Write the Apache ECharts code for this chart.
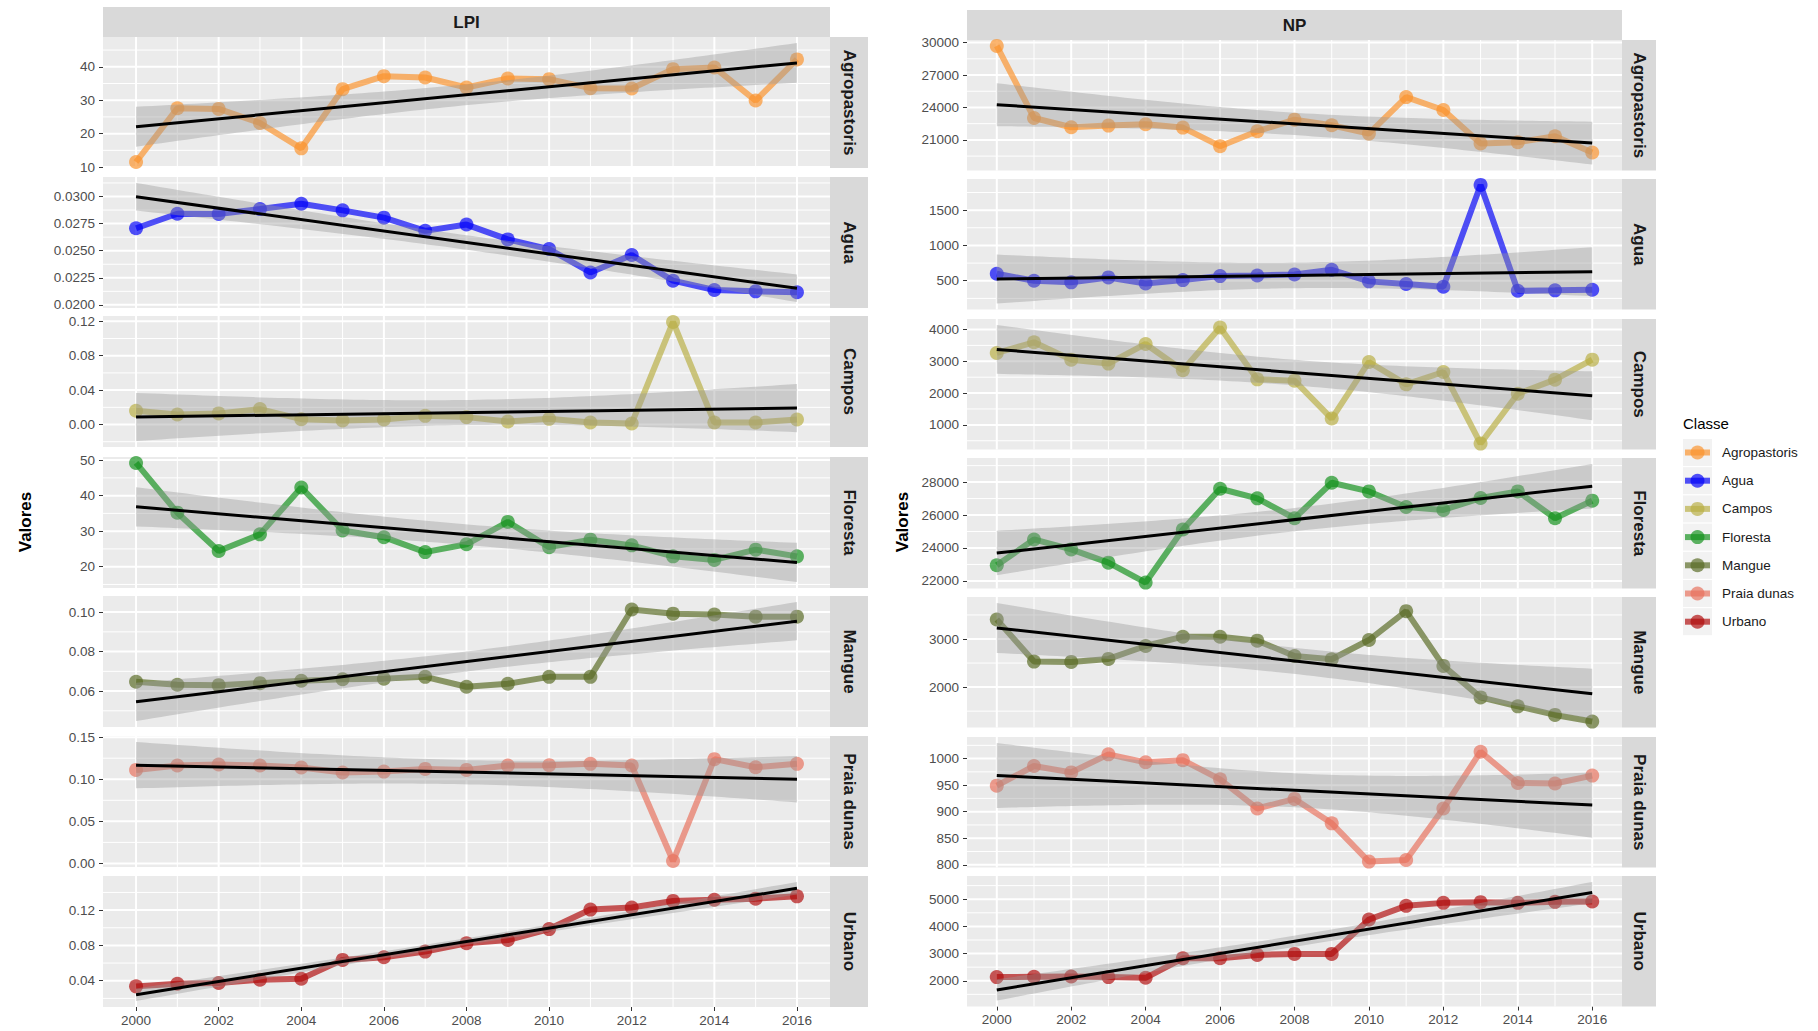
<!DOCTYPE html>
<html>
<head>
<meta charset="utf-8">
<script src="https://cdn.jsdelivr.net/npm/echarts@6/dist/echarts.min.js"></script>
<style>
  html, body { margin: 0; padding: 0; background: #ffffff; }
  #chart { width: 1818px; height: 1031px; }
</style>
</head>
<body>
<div id="chart"></div>
<script>
// ---- data ---------------------------------------------------------------
const years = [2000, 2001, 2002, 2003, 2004, 2005, 2006, 2007, 2008, 2009, 2010, 2011, 2012, 2013, 2014, 2015, 2016];
const classes = ['Agropastoris', 'Agua', 'Campos', 'Floresta', 'Mangue', 'Praia dunas', 'Urbano'];
const classColors = ['#fb922b', '#0000f8', '#b8ae43', '#12901a', '#586a24', '#e7705c', '#b00a0a'];

// LPI (largest patch index)
const lpiAgropastoris = [11.5, 27.6, 27.4, 23.2, 15.6, 33.3, 37.2, 36.8, 33.8, 36.5, 36.3, 33.6, 33.5, 39.3, 39.8, 29.9, 42.2];
const lpiAgua = [0.02707, 0.02841, 0.02838, 0.02884, 0.02933, 0.02872, 0.02805, 0.02683, 0.02741, 0.02604, 0.02515, 0.02299, 0.02460, 0.02223, 0.02137, 0.02125, 0.02116];
const lpiCampos = [0.0160, 0.0117, 0.0129, 0.0179, 0.0062, 0.0047, 0.0058, 0.0101, 0.0086, 0.0035, 0.0066, 0.0023, 0.0012, 0.1192, 0.0023, 0.0023, 0.0058];
const lpiFloresta = [49.2, 35.2, 24.4, 29.1, 42.3, 30.2, 28.3, 24.1, 26.3, 32.6, 25.5, 27.6, 26.0, 22.9, 21.9, 24.8, 22.9];
const lpiMangue = [0.0647, 0.0632, 0.0630, 0.0640, 0.0652, 0.0660, 0.0663, 0.0672, 0.0622, 0.0637, 0.0672, 0.0672, 0.1013, 0.0992, 0.0988, 0.0977, 0.0977];
const lpiPraiaDunas = [0.1111, 0.1163, 0.1175, 0.1163, 0.1139, 0.1080, 0.1091, 0.1123, 0.1111, 0.1163, 0.1167, 0.1183, 0.1163, 0.0028, 0.1239, 0.1143, 0.1183];
const lpiUrbano = [0.0336, 0.0366, 0.0374, 0.0411, 0.0422, 0.0636, 0.0666, 0.0730, 0.0824, 0.0861, 0.0985, 0.1206, 0.1229, 0.1304, 0.1318, 0.1330, 0.1356];

// NP (number of patches)
const npAgropastoris = [29693, 23027, 22167, 22320, 22443, 22136, 20417, 21799, 22873, 22351, 21583, 24961, 23763, 20663, 20786, 21338, 19833];
const npAgua = [599, 500, 477, 547, 462, 509, 566, 575, 589, 655, 491, 453, 415, 1857, 359, 364, 373];
const npCampos = [3262, 3598, 3052, 2927, 3546, 2717, 4063, 2433, 2391, 1199, 2979, 2276, 2664, 412, 1979, 2423, 3052];
const npFloresta = [22947, 24518, 23914, 23108, 21899, 25121, 27597, 27013, 25805, 27960, 27436, 26489, 26308, 27033, 27436, 25805, 26872];
const npMangue = [3407, 2531, 2524, 2586, 2855, 3048, 3048, 2966, 2648, 2579, 2979, 3579, 2441, 1786, 1600, 1421, 1283];
const npPraiaDunas = [949, 986, 974, 1008, 993, 997, 961, 906, 924, 878, 806, 809, 906, 1013, 954, 953, 968];
const npUrbano = [2134, 2146, 2158, 2134, 2109, 2826, 2826, 2951, 2988, 2988, 4255, 4757, 4866, 4891, 4866, 4903, 4915];

// tick values per panel
const lpiTicks = [
  [10, 20, 30, 40],
  [0.0200, 0.0225, 0.0250, 0.0275, 0.0300],
  [0.00, 0.04, 0.08, 0.12],
  [20, 30, 40, 50],
  [0.06, 0.08, 0.10],
  [0.00, 0.05, 0.10, 0.15],
  [0.04, 0.08, 0.12]
];
const lpiDecimals = [0, 4, 2, 0, 2, 2, 2];
const npTicks = [
  [21000, 24000, 27000, 30000],
  [500, 1000, 1500],
  [1000, 2000, 3000, 4000],
  [22000, 24000, 26000, 28000],
  [2000, 3000],
  [800, 850, 900, 950, 1000],
  [2000, 3000, 4000, 5000]
];
const npDecimals = [0, 0, 0, 0, 0, 0, 0];
const yearTicks = [2000, 2002, 2004, 2006, 2008, 2010, 2012, 2014, 2016];
const yearMinor = [2001, 2003, 2005, 2007, 2009, 2011, 2013, 2015];

// ---- layout -------------------------------------------------------------
const X_MIN = 1999.2, X_MAX = 2016.8;
const FONT = '"Liberation Sans", Arial, sans-serif';
const LEFT_COL = { x: 103, w: 727, stripW: 38, tops: [37, 177, 316, 457, 596, 736, 876], h: 131, headerTop: 7 };
const RIGHT_COL = { x: 967, w: 655, stripW: 34, tops: [40, 179, 319, 458, 597, 737, 876], h: 130.5, headerTop: 10 };

// ---- linear fit with 95% confidence band --------------------------------
const T_975_DF15 = 2.1314; // t quantile, n = 17 years -> 15 df
function linearBand(xs, ys) {
  const n = xs.length;
  const mx = xs.reduce((a, b) => a + b, 0) / n;
  const my = ys.reduce((a, b) => a + b, 0) / n;
  let sxx = 0, sxy = 0;
  for (let i = 0; i < n; i++) { sxx += (xs[i] - mx) ** 2; sxy += (xs[i] - mx) * (ys[i] - my); }
  const b = sxy / sxx, a = my - b * mx;
  let sse = 0;
  for (let i = 0; i < n; i++) sse += (ys[i] - a - b * xs[i]) ** 2;
  const s = Math.sqrt(sse / (n - 2));
  const x0 = xs[0], x1 = xs[n - 1];
  const pts = [];
  for (let k = 0; k < 80; k++) {
    const x = x0 + (x1 - x0) * k / 79;
    const yh = a + b * x;
    const se = s * Math.sqrt(1 / n + (x - mx) ** 2 / sxx);
    pts.push([x, yh - T_975_DF15 * se, yh + T_975_DF15 * se]);
  }
  return { a, b, pts };
}

const metrics = [
  { name: 'LPI', col: LEFT_COL, values: [lpiAgropastoris, lpiAgua, lpiCampos, lpiFloresta, lpiMangue, lpiPraiaDunas, lpiUrbano], ticks: lpiTicks, decimals: lpiDecimals },
  { name: 'NP', col: RIGHT_COL, values: [npAgropastoris, npAgua, npCampos, npFloresta, npMangue, npPraiaDunas, npUrbano], ticks: npTicks, decimals: npDecimals }
];

const grids = [], xAxes = [], yAxes = [], series = [], graphics = [];
const tickText = { fontSize: 13.5, color: '#4d4d4d', fontFamily: FONT };

metrics.forEach(m => {
  const col = m.col;
  // facet header
  graphics.push({ type: 'rect', shape: { x: col.x, y: col.headerTop, width: col.w, height: 30 }, style: { fill: '#d9d9d9' }, silent: true });
  graphics.push({ type: 'text', x: col.x + col.w / 2, y: col.headerTop + 15, silent: true,
    style: { text: m.name, align: 'center', verticalAlign: 'middle', fill: '#1a1a1a', font: 'bold 17px ' + FONT } });

  m.values.forEach((vals, r) => {
    const gi = grids.length;
    const top = col.tops[r];
    const last = r === m.values.length - 1;
    grids.push({ left: col.x, top: top, width: col.w, height: col.h, containLabel: false,
      show: true, backgroundColor: '#ebebeb', borderWidth: 0 });

    // strip on the right side of the panel
    graphics.push({ type: 'rect', shape: { x: col.x + col.w, y: top, width: col.stripW, height: col.h }, style: { fill: '#d9d9d9' }, silent: true });
    graphics.push({ type: 'text', x: col.x + col.w + col.stripW / 2, y: top + col.h / 2, rotation: -Math.PI / 2, silent: true,
      style: { text: classes[r], align: 'center', verticalAlign: 'middle', fill: '#1a1a1a', font: 'bold 17px ' + FONT } });

    const fit = linearBand(years, vals);
    const lo = Math.min(...vals, ...fit.pts.map(p => p[1]));
    const hi = Math.max(...vals, ...fit.pts.map(p => p[2]));
    const pad = (hi - lo) * 0.05;
    const yMin = lo - pad, yMax = hi + pad;

    const ticks = m.ticks[r];
    const dec = m.decimals[r];
    const step = ticks[1] - ticks[0];
    const yMinor = [];
    for (let v = ticks[0] - step / 2; v <= ticks[ticks.length - 1] + step / 2 + 1e-12; v += step) {
      if (v >= yMin && v <= yMax) yMinor.push(v);
    }

    xAxes.push({
      gridIndex: gi, type: 'value', min: X_MIN, max: X_MAX,
      axisLine: { show: false }, splitLine: { show: false },
      axisTick: { show: last, length: 4, lineStyle: { color: '#333333', width: 1 }, customValues: yearTicks },
      axisLabel: { show: last, margin: 6, hideOverlap: false, customValues: yearTicks, formatter: v => String(v), ...tickText }
    });
    yAxes.push({
      gridIndex: gi, type: 'value', min: yMin, max: yMax,
      axisLine: { show: false }, splitLine: { show: false },
      axisTick: { show: true, length: 4, lineStyle: { color: '#333333', width: 1 }, customValues: ticks },
      axisLabel: { show: true, margin: 8, hideOverlap: false, customValues: ticks, formatter: v => v.toFixed(dec), ...tickText }
    });

    // panel grid lines: [x, y, orientation (0 vertical / 1 horizontal), major]
    const gridItems = [];
    yearMinor.forEach(v => gridItems.push([v, yMin, 0, 0]));
    yMinor.forEach(v => gridItems.push([X_MIN, v, 1, 0]));
    yearTicks.forEach(v => gridItems.push([v, yMin, 0, 1]));
    ticks.forEach(v => gridItems.push([X_MIN, v, 1, 1]));
    series.push({
      type: 'custom', xAxisIndex: gi, yAxisIndex: gi, z: 1, silent: true, data: gridItems,
      renderItem: (params, api) => {
        const p = api.coord([api.value(0), api.value(1)]);
        const cs = params.coordSys;
        const w = api.value(3) ? 2 : 1;
        const shape = api.value(2) === 0
          ? { x1: p[0], y1: cs.y, x2: p[0], y2: cs.y + cs.height }
          : { x1: cs.x, y1: p[1], x2: cs.x + cs.width, y2: p[1] };
        return { type: 'line', shape, style: { stroke: '#ffffff', lineWidth: w } };
      }
    });

    // observed values
    const color = classColors[r];
    series.push({
      type: 'line', name: classes[r], xAxisIndex: gi, yAxisIndex: gi, z: 2, silent: true,
      data: years.map((y, i) => [y, vals[i]]),
      symbol: 'circle', symbolSize: 14, showSymbol: true, showAllSymbol: true,
      lineStyle: { color, width: 6, opacity: 0.68 },
      itemStyle: { color, opacity: 0.68, borderWidth: 0 },
      emphasis: { disabled: true }
    });

    // confidence band: one polygon through the lower and upper limits
    const band = fit.pts;
    series.push({
      type: 'custom', xAxisIndex: gi, yAxisIndex: gi, z: 3, silent: true,
      data: band.map(p => [p[0], p[1], p[2]]),
      encode: { x: 0, y: [1, 2] },
      renderItem: (params, api) => {
        if (params.dataIndex !== 0) return null;
        const upper = band.map(p => api.coord([p[0], p[2]]));
        const lower = band.map(p => api.coord([p[0], p[1]])).reverse();
        return { type: 'polygon', shape: { points: upper.concat(lower) },
          style: { fill: 'rgba(153,153,153,0.4)' } };
      }
    });

    // fitted line
    series.push({
      type: 'line', xAxisIndex: gi, yAxisIndex: gi, z: 4, silent: true,
      data: [[years[0], fit.a + fit.b * years[0]], [years[years.length - 1], fit.a + fit.b * years[years.length - 1]]],
      symbol: 'none', showSymbol: false, lineStyle: { color: '#000000', width: 3 }, emphasis: { disabled: true }
    });
  });
});

// axis titles
graphics.push({ type: 'text', x: 25, y: 522, rotation: Math.PI / 2, silent: true,
  style: { text: 'Valores', align: 'center', verticalAlign: 'middle', fill: '#000000', font: 'bold 17px ' + FONT } });
graphics.push({ type: 'text', x: 902, y: 522, rotation: Math.PI / 2, silent: true,
  style: { text: 'Valores', align: 'center', verticalAlign: 'middle', fill: '#000000', font: 'bold 17px ' + FONT } });

// legend
const LEG_X = 1683, LEG_Y0 = 439, KEY_W = 29, KEY_H = 27, KEY_STEP = 28.2;
graphics.push({ type: 'text', x: LEG_X, y: 423, silent: true,
  style: { text: 'Classe', align: 'left', verticalAlign: 'middle', fill: '#000000', font: '15px ' + FONT } });
classes.forEach((c, i) => {
  const y = LEG_Y0 + i * KEY_STEP;
  const cy = y + KEY_H / 2;
  graphics.push({ type: 'rect', shape: { x: LEG_X, y, width: KEY_W, height: KEY_H }, style: { fill: '#f2f2f2' }, silent: true });
  graphics.push({ type: 'line', shape: { x1: LEG_X + 2, y1: cy, x2: LEG_X + KEY_W - 2, y2: cy }, style: { stroke: classColors[i], lineWidth: 6, opacity: 0.68 }, silent: true });
  graphics.push({ type: 'circle', shape: { cx: LEG_X + KEY_W / 2, cy, r: 7 }, style: { fill: classColors[i], opacity: 0.68 }, silent: true });
  graphics.push({ type: 'text', x: LEG_X + KEY_W + 10, y: cy, silent: true,
    style: { text: c, align: 'left', verticalAlign: 'middle', fill: '#1a1a1a', font: '13.5px ' + FONT } });
});

const chart = echarts.init(document.getElementById('chart'), null, { renderer: 'svg' });
chart.setOption({
  animation: false,
  backgroundColor: '#ffffff',
  grid: grids,
  xAxis: xAxes,
  yAxis: yAxes,
  series: series,
  graphic: { elements: graphics }
});
</script>
</body>
</html>
